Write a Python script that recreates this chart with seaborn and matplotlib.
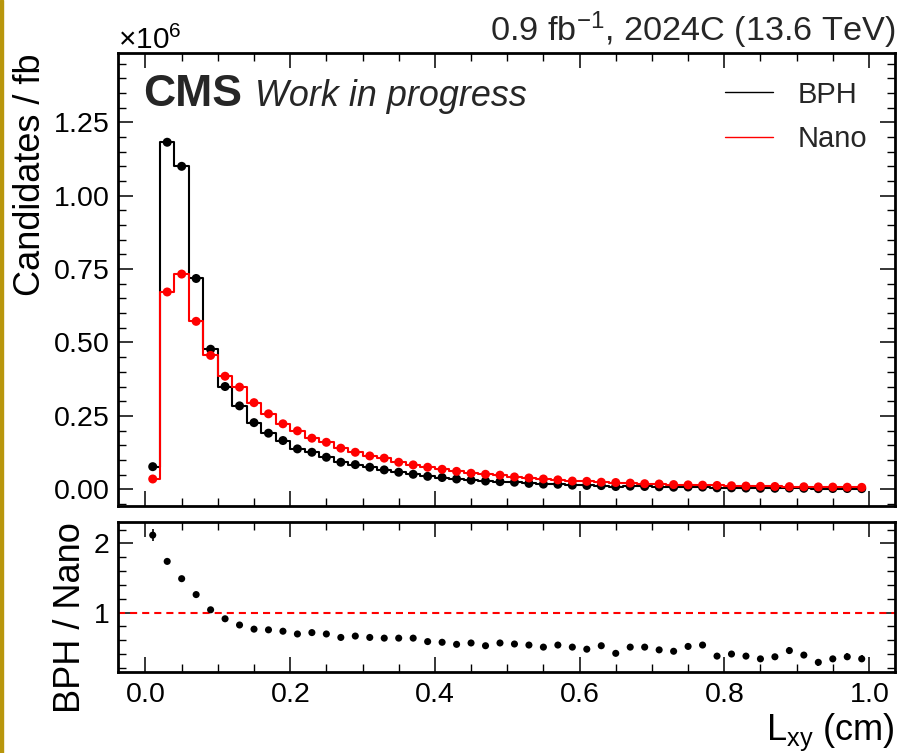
import numpy as np
import pandas as pd
import matplotlib
matplotlib.use("Agg")
import matplotlib.pyplot as plt
from matplotlib.ticker import MultipleLocator, AutoMinorLocator
from matplotlib.patches import Rectangle
import seaborn as sns

# ── DATA ─────────────────────────────────────────────────────────────────────
# 50 bins of 0.02 cm between 0 and 1 cm
lxy_centers = np.round(np.arange(0.01, 1.0, 0.02), 3)

# candidates / fb (x 1e6)
bph = [0.077, 1.182, 1.100, 0.718, 0.477, 0.350, 0.284, 0.227, 0.191, 0.166,
       0.1375, 0.126, 0.109, 0.092, 0.084, 0.075, 0.066, 0.058, 0.051, 0.044,
       0.040, 0.035, 0.031, 0.028, 0.026, 0.024, 0.020, 0.0175, 0.017, 0.014,
       0.013, 0.0125, 0.0094, 0.0105, 0.0095, 0.0083, 0.0070, 0.0077, 0.0074, 0.0048,
       0.0048, 0.0041, 0.0033, 0.0034, 0.0041, 0.0033, 0.0022, 0.0025, 0.0025, 0.0021]
nano = [0.035, 0.672, 0.733, 0.572, 0.456, 0.385, 0.348, 0.295, 0.257, 0.223,
        0.199, 0.174, 0.160, 0.140, 0.126, 0.1135, 0.106, 0.092, 0.083, 0.075,
        0.068, 0.061, 0.0545, 0.051, 0.048, 0.042, 0.0385, 0.035, 0.032, 0.028,
        0.027, 0.024, 0.023, 0.021, 0.019, 0.018, 0.016, 0.015, 0.014, 0.013,
        0.012, 0.011, 0.010, 0.0095, 0.009, 0.0085, 0.008, 0.0075, 0.007, 0.0065]

# BPH / Nano ratio and its uncertainty
ratio = [2.12, 1.74, 1.49, 1.26, 1.04, 0.91, 0.82, 0.76, 0.75, 0.73,
         0.69, 0.71, 0.69, 0.64, 0.66, 0.64, 0.63, 0.63, 0.63, 0.58,
         0.57, 0.54, 0.56, 0.52, 0.56, 0.545, 0.53, 0.50, 0.53, 0.50,
         0.47, 0.52, 0.41, 0.50, 0.50, 0.46, 0.44, 0.51, 0.53, 0.37,
         0.40, 0.37, 0.33, 0.36, 0.45, 0.385, 0.28, 0.33, 0.36, 0.33]
ratio_err = [0.09, 0.01, 0.01, 0.01, 0.01, 0.012, 0.012, 0.012, 0.015, 0.015,
             0.015, 0.015, 0.015, 0.015, 0.015, 0.018, 0.018, 0.018, 0.02, 0.02,
             0.02, 0.022, 0.022, 0.025, 0.025, 0.025, 0.025, 0.028, 0.028, 0.03,
             0.03, 0.032, 0.032, 0.035, 0.035, 0.035, 0.038, 0.038, 0.04, 0.04,
             0.04, 0.042, 0.042, 0.045, 0.045, 0.045, 0.048, 0.048, 0.05, 0.05]

df = pd.DataFrame({"lxy": lxy_centers,
                   "bph": np.array(bph) * 1e6,
                   "nano": np.array(nano) * 1e6,
                   "ratio": ratio,
                   "ratio_err": ratio_err})

# ── STYLE ─────────────────────────────────────────────────────────────────────
sns.set_theme(style="ticks")
plt.rcParams["font.family"] = ["Liberation Sans", "DejaVu Sans"]
plt.rcParams.update({
    "mathtext.fontset": "custom",
    "mathtext.rm": "Liberation Sans",
    "mathtext.it": "Liberation Sans:italic",
    "mathtext.bf": "Liberation Sans:bold",
    "axes.formatter.use_mathtext": True,
    "axes.linewidth": 2.0,
    "axes.edgecolor": "black",
    "xtick.direction": "in", "ytick.direction": "in",
    "xtick.top": True, "ytick.right": True,
    "xtick.minor.visible": True, "ytick.minor.visible": True,
    "xtick.major.size": 11, "ytick.major.size": 11,
    "xtick.minor.size": 5.5, "ytick.minor.size": 5.5,
    "xtick.major.width": 1.1, "ytick.major.width": 1.1,
    "xtick.minor.width": 1.0, "ytick.minor.width": 1.0,
    "xtick.major.pad": 7, "ytick.major.pad": 6,
    "xtick.labelsize": 20.5, "ytick.labelsize": 20.5,
    "xtick.color": "black", "ytick.color": "black",
    "axes.labelsize": 26, "axes.labelcolor": "black",
})

fig = plt.figure(figsize=(8.99, 7.53), dpi=100)
ax = fig.add_axes([118 / 899, 1 - 506 / 753, 777 / 899, 453 / 753])
axr = fig.add_axes([118 / 899, 1 - 672 / 753, 777 / 899, 150 / 753], sharex=ax)

# ── MAIN PANEL ────────────────────────────────────────────────────────────────
sns.lineplot(data=df, x="lxy", y="bph", ax=ax, color="black", lw=1.5,
             drawstyle="steps-mid", label="BPH")
sns.scatterplot(data=df, x="lxy", y="bph", ax=ax, color="black", s=42,
                edgecolor="none", legend=False, zorder=3)
sns.lineplot(data=df, x="lxy", y="nano", ax=ax, color="red", lw=1.5,
             drawstyle="steps-mid", label="Nano")
sns.scatterplot(data=df, x="lxy", y="nano", ax=ax, color="red", s=42,
                edgecolor="none", legend=False, zorder=4)

ax.set_xlim(-0.038, 1.036)
ax.set_ylim(-0.057e6, 1.486e6)
ax.yaxis.set_major_locator(MultipleLocator(0.25e6))
ax.yaxis.set_minor_locator(AutoMinorLocator(5))
ax.xaxis.set_major_locator(MultipleLocator(0.2))
ax.xaxis.set_minor_locator(AutoMinorLocator(4))
ax.tick_params(axis="x", labelbottom=False)
ax.set_xlabel("")
ax.set_ylabel("Candidates / fb", loc="top", labelpad=4)

leg = ax.legend(loc="upper right", frameon=False, fontsize=21,
                handlelength=1.65, handletextpad=0.85, labelspacing=0.55,
                borderaxespad=0.55, borderpad=0.4)
for h in leg.get_lines():
    h.set_linewidth(1.0)

ax.text(0.032, 0.883, "CMS", transform=ax.transAxes, fontsize=32,
        fontweight="bold", va="baseline")
ax.text(0.176, 0.883, "Work in progress", transform=ax.transAxes, fontsize=25.8,
        style="italic", va="baseline")
ax.text(1.0, 1.027, r"0.9 fb$^{-1}$, 2024C (13.6 TeV)", transform=ax.transAxes,
        fontsize=24.7, ha="right", va="baseline")

# ── RATIO PANEL ───────────────────────────────────────────────────────────────
axr.axhline(1.0, color="red", lw=1.5, ls=(0, (3.4, 2.4)), zorder=1)
axr.errorbar(df["lxy"], df["ratio"], yerr=df["ratio_err"], fmt="none",
             ecolor="black", elinewidth=1.2, zorder=2)
sns.scatterplot(data=df, x="lxy", y="ratio", ax=axr, color="black", s=26,
                edgecolor="none", legend=False, zorder=3)

axr.set_ylim(0.14, 2.31)
axr.yaxis.set_major_locator(MultipleLocator(1))
axr.yaxis.set_minor_locator(AutoMinorLocator(5))
axr.set_ylabel("BPH / Nano", loc="top", labelpad=4)
axr.set_xlabel(r"L$_{\mathrm{xy}}$ (cm)", loc="right", labelpad=3)

# left edge strip of the screenshot
fig.add_artist(Rectangle((0, 0), 2.5 / 899, 1, transform=fig.transFigure,
                         color="#b8960c", zorder=10))

fig.canvas.draw()
ax.yaxis.get_offset_text().set_fontsize(21.5)

fig.savefig("out.png", dpi=100)
plt.close(fig)
